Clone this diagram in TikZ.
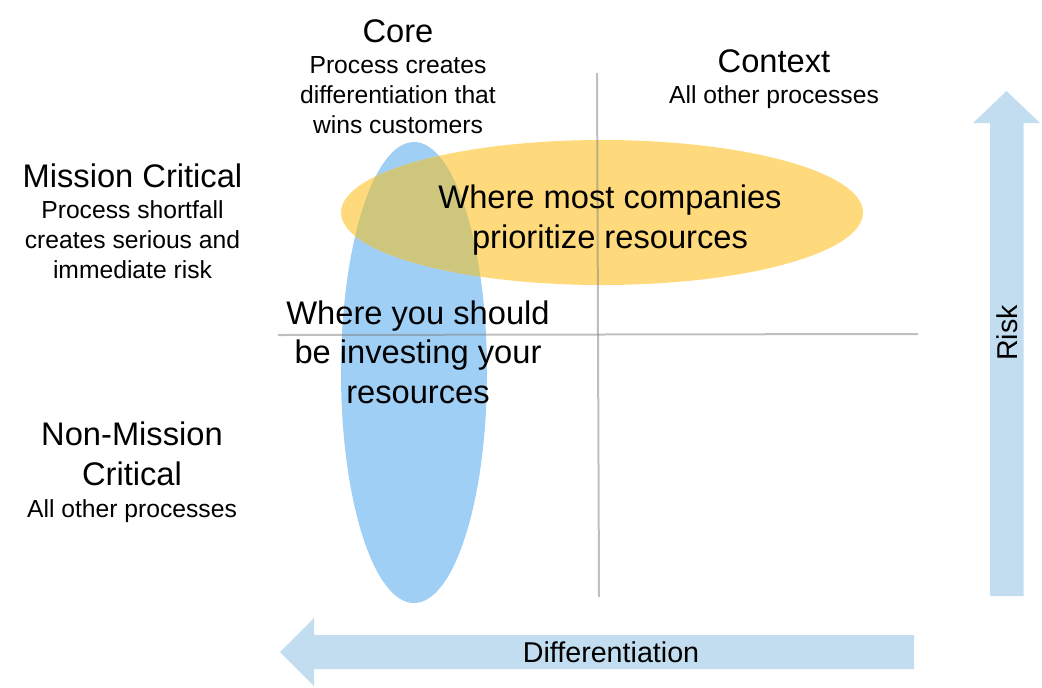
\documentclass[tikz,border=0pt]{standalone}
\usepackage{fontspec}
\setmainfont{Liberation Sans}
\definecolor{coreblue}{RGB}{160,207,245}
\definecolor{prioyellow}{RGB}{255,218,125}
\definecolor{overlapolive}{RGB}{206,198,124}
\definecolor{axisblue}{RGB}{194,221,240}
\tikzset{
    bigtext/.style={font=\fontsize{24.5}{29.5}\selectfont, align=center, anchor=base, inner sep=0pt},
    smalltext/.style={font=\fontsize{18.5}{22.5}\selectfont, align=center, anchor=base, inner sep=0pt},
    axislabel/.style={font=\fontsize{21.5}{26}\selectfont, anchor=base, inner sep=0pt},
    quadline/.style={line width=1.5pt, draw=black!50, opacity=.5},
}

\begin{document}
\begin{tikzpicture}[x=.75pt, y=-.75pt]
    \useasboundingbox(0, 0)rectangle(1042, 687);
    % axis arrows
    \fill[axisblue](990, 596)--(990, 123)--(973, 123)--(1006.5, 91)--(1040, 123)--(1023.5, 123)--(1023.5, 596)--cycle;
    \fill[axisblue](914, 635)--(314, 635)--(314, 618)--(280, 652)--(314, 686)--(314, 669)--(914, 669)--cycle;
    % ellipses
    \coordinate (corec) at (414, 372.5);
    \coordinate (prioc) at (602, 212.5);
    \fill[coreblue](corec) ellipse[x radius=73, y radius=230.5];
    \fill[prioyellow](prioc) ellipse[x radius=261, y radius=72.5];
    \begin{scope}
        \clip(corec) ellipse[x radius=73, y radius=230.5];
        \fill[overlapolive](prioc) ellipse[x radius=261, y radius=72.5];
    \end{scope}
    % quadrants
    \coordinate (vtop) at (597, 73);
    \coordinate (vbot) at (599, 597);
    \coordinate (hleft) at (278, 335);
    \coordinate (hright) at (918, 334);
    \draw[quadline](vtop)--(vbot);
    \draw[quadline](hleft)--(hright);
    % labels (base = last line)
    \node[bigtext] (core) at (398, 42) {Core};
    \node[smalltext] (coredesc) at (398, 133) {Process creates\\differentiation that\\wins customers};
    \node[bigtext] (context) at (774, 72) {Context};
    \node[smalltext] (contextdesc) at (774, 103) {All other processes};
    \node[bigtext] (mission) at (132.5, 187) {Mission Critical};
    \node[smalltext] (missiondesc) at (132.5, 278) {Process shortfall\\creates serious and\\immediate risk};
    \node[bigtext] (nonmission) at (132, 485) {Non-Mission\\Critical};
    \node[smalltext] (nonmissiondesc) at (132, 517) {All other processes};
    \node[bigtext] (prioritize) at (610, 248) {Where most companies\\prioritize resources};
    \node[bigtext] (invest) at (418, 403) {Where you should\\be investing your\\resources};
    \node[axislabel, rotate=90] (risk) at (1017, 333) {Risk};
    \node[axislabel] (diff) at (611, 662) {Differentiation};
\end{tikzpicture}
\end{document}
